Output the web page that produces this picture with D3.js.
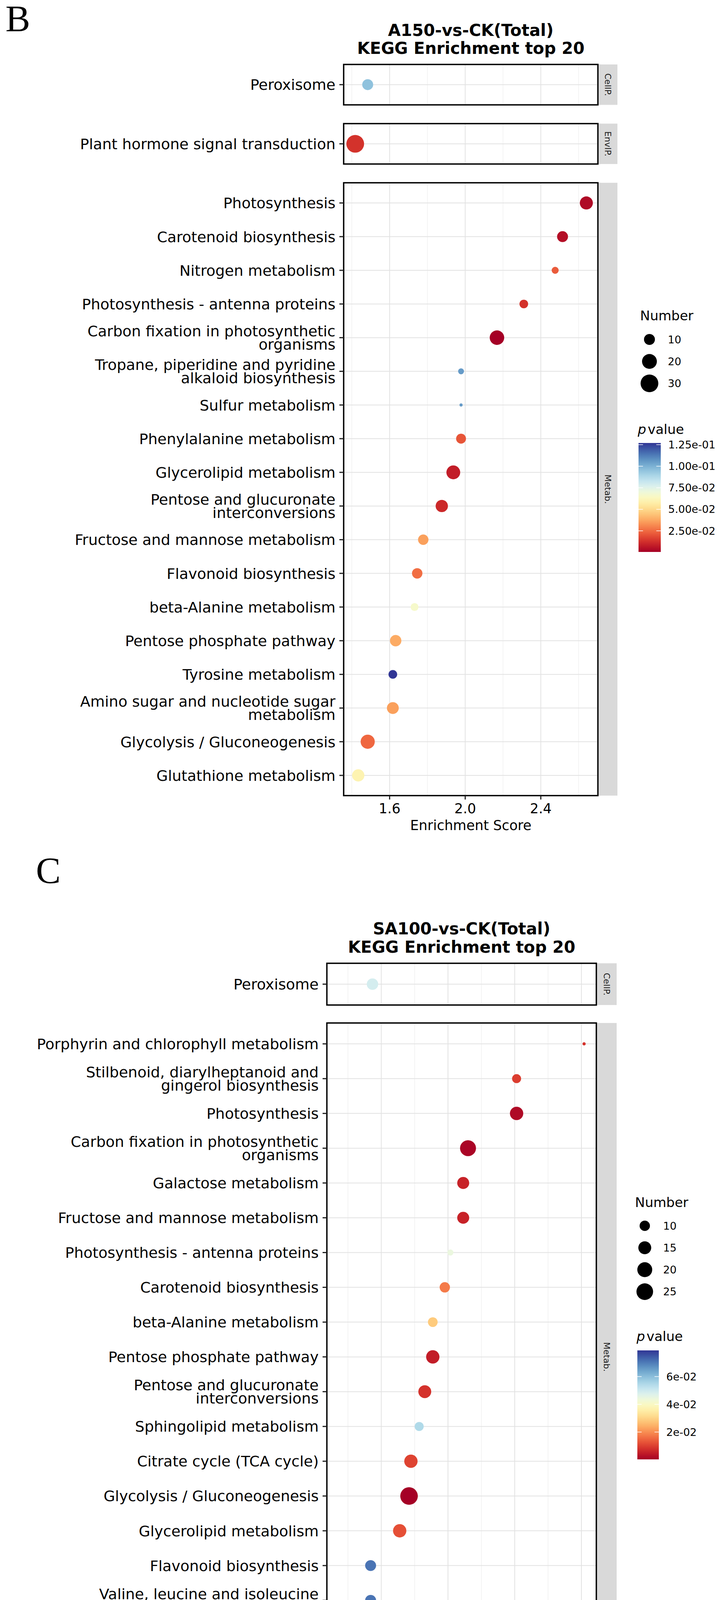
<!DOCTYPE html>
<html>
<head>
<meta charset="utf-8">
<script src="https://cdn.jsdelivr.net/npm/d3@7"></script>
<style>
  html, body { margin: 0; padding: 0; background: #fff; overflow: hidden; }
  #canvas { display: block; }
  svg text { font-family: "DejaVu Sans", sans-serif; }
</style>
</head>
<body>
<svg id="canvas" width="1859" height="4434"></svg>
<script>
// ---- panel B : A150 vs CK ----
const bTitle = ['A150-vs-CK(Total)', 'KEGG Enrichment top 20']
const bClass = ['CellP.', 'EnvIP.', 'Metab.', 'Metab.', 'Metab.', 'Metab.', 'Metab.', 'Metab.', 'Metab.', 'Metab.',
  'Metab.', 'Metab.', 'Metab.', 'Metab.', 'Metab.', 'Metab.', 'Metab.', 'Metab.', 'Metab.', 'Metab.']
const bTerms = ['Peroxisome', 'Plant hormone signal transduction', 'Photosynthesis', 'Carotenoid biosynthesis',
  'Nitrogen metabolism', 'Photosynthesis - antenna proteins', 'Carbon fixation in photosynthetic\norganisms',
  'Tropane, piperidine and pyridine\nalkaloid biosynthesis', 'Sulfur metabolism', 'Phenylalanine metabolism',
  'Glycerolipid metabolism', 'Pentose and glucuronate\ninterconversions', 'Fructose and mannose metabolism',
  'Flavonoid biosynthesis', 'beta-Alanine metabolism', 'Pentose phosphate pathway', 'Tyrosine metabolism',
  'Amino sugar and nucleotide sugar\nmetabolism', 'Glycolysis / Gluconeogenesis', 'Glutathione metabolism']
const bScore = [1.484, 1.418, 2.641, 2.515, 2.476, 2.310, 2.168, 1.978, 1.978, 1.978,
  1.937, 1.876, 1.778, 1.746, 1.732, 1.632, 1.617, 1.617, 1.484, 1.434]
const bCount = [10, 30, 15, 10, 4, 6, 19, 3, 2, 8, 17, 13, 9, 9, 5, 11, 6, 12, 18, 13]
const bPvalue = [0.0954, 0.0131, 0.0030, 0.0042, 0.0220, 0.0131, 0.00045, 0.1055, 0.1055, 0.0207,
  0.0080, 0.0106, 0.0359, 0.0258, 0.0663, 0.0384, 0.1270, 0.0359, 0.0245, 0.0599]
const bXTicks = [1.6, 2.0, 2.4]
const bXLabels = ['1.6', '2.0', '2.4']
const bSizeBreaks = [10, 20, 30]
const bPBreaks = [0.025, 0.05, 0.075, 0.1, 0.125]
const bPLabels = ['2.50e-02', '5.00e-02', '7.50e-02', '1.00e-01', '1.25e-01']

// ---- panel C : SA100 vs CK ----
const cTitle = ['SA100-vs-CK(Total)', 'KEGG Enrichment top 20']
const cClass = ['CellP.', 'Metab.', 'Metab.', 'Metab.', 'Metab.', 'Metab.', 'Metab.', 'Metab.', 'Metab.', 'Metab.',
  'Metab.', 'Metab.', 'Metab.', 'Metab.', 'Metab.', 'Metab.', 'Metab.', 'Metab.', 'Metab.', 'Metab.']
const cTerms = ['Peroxisome', 'Porphyrin and chlorophyll metabolism', 'Stilbenoid, diarylheptanoid and\ngingerol biosynthesis',
  'Photosynthesis', 'Carbon fixation in photosynthetic\norganisms', 'Galactose metabolism',
  'Fructose and mannose metabolism', 'Photosynthesis - antenna proteins', 'Carotenoid biosynthesis',
  'beta-Alanine metabolism', 'Pentose phosphate pathway', 'Pentose and glucuronate\ninterconversions',
  'Sphingolipid metabolism', 'Citrate cycle (TCA cycle)', 'Glycolysis / Gluconeogenesis', 'Glycerolipid metabolism',
  'Flavonoid biosynthesis', 'Valine, leucine and isoleucine\ndegradation', 'Starch and sucrose metabolism',
  'Phenylpropanoid biosynthesis']
const cScore = [1.467, 2.260, 2.007, 2.007, 1.825, 1.807, 1.807, 1.759, 1.738, 1.693,
  1.693, 1.663, 1.642, 1.611, 1.604, 1.569, 1.460, 1.460, 1.398, 1.342]
const cCount = [12, 4, 8, 16, 23, 13, 13, 5, 10, 9, 16, 15, 8, 16, 28, 16, 11, 11, 13, 25]
const cPvalue = [0.0490, 0.0082, 0.0097, 0.0019, 0.0011, 0.0058, 0.0058, 0.0443, 0.0176, 0.0286,
  0.0050, 0.0082, 0.0545, 0.0105, 0.0003, 0.0121, 0.0710, 0.0710, 0.0789, 0.0427]
const cXTicks = [1.5, 1.75, 2.0, 2.25]
const cXLabels = ['1.50', '1.75', '2.00', '2.25']
const cSizeBreaks = [10, 15, 20, 25]
const cPBreaks = [0.02, 0.04, 0.06]
const cPLabels = ['2e-02', '4e-02', '6e-02']

let svg = d3.select('#canvas')
svg.append('rect').attr('width', 1859).attr('height', 4434).attr('fill', '#fff')

let drawChart = (o) => {
  let g = svg.append('g')
  let rows = o.terms.map((t, i) => ({term: t, cls: o.cls[i], score: o.score[i], n: o.count[i], p: o.pvalue[i]}))
  let groups = Array.from(new Set(o.cls))

  let ext = d3.extent(o.score)
  let pad = (ext[1] - ext[0]) * 0.05
  let x = d3.scaleLinear().domain([ext[0] - pad, ext[1] + pad]).range([o.left, o.right])
  let color = d3.scaleSequential(d3.interpolateRdYlBu).domain(d3.extent(o.pvalue))
  let sizeT = d3.scaleLinear().domain(d3.extent(o.count)).range([0, 1])
  let rS = d3.scaleSqrt().domain([0, 1]).range(o.rRange)
  let r = v => rS(sizeT(v))

  // minor breaks halfway between majors (one extra step each side)
  let step = o.xTicks[1] - o.xTicks[0]
  let minor = d3.range(o.xTicks[0] - step / 2, o.xTicks[o.xTicks.length - 1] + step, step)
    .filter(v => v > x.domain()[0] && v < x.domain()[1])

  // tag letter
  svg.append('text').attr('x', o.tagX).attr('y', o.tagY)
    .style('font-family', '"Liberation Serif", serif').attr('font-size', 95).text(o.tag)

  // title
  o.title.forEach((t, i) => {
    g.append('text').attr('x', (o.left + o.right) / 2).attr('y', o.titleY + i * 46.5)
      .attr('text-anchor', 'middle').attr('font-size', 42).attr('font-weight', 'bold').text(t)
  })

  let top = o.top
  let bottom
  groups.forEach(grp => {
    let sub = rows.filter(d => d.cls === grp)
    let h = o.unit * (sub.length - 1 + 1.2)
    let y = d3.scalePoint().domain(sub.map(d => d.term)).range([top, top + h]).padding(0.6)
    let pg = g.append('g')

    pg.append('rect').attr('x', o.left).attr('y', top).attr('width', o.right - o.left).attr('height', h).attr('fill', '#fff')

    pg.selectAll('.minor').data(minor).enter().append('line')
      .attr('x1', d => x(d)).attr('x2', d => x(d)).attr('y1', top).attr('y2', top + h)
      .attr('stroke', '#ececec').attr('stroke-width', 1.2)
    pg.selectAll('.vmajor').data(o.xTicks).enter().append('line')
      .attr('x1', d => x(d)).attr('x2', d => x(d)).attr('y1', top).attr('y2', top + h)
      .attr('stroke', '#e2e2e2').attr('stroke-width', 2)
    pg.selectAll('.hmajor').data(sub).enter().append('line')
      .attr('x1', o.left).attr('x2', o.right).attr('y1', d => y(d.term)).attr('y2', d => y(d.term))
      .attr('stroke', '#e2e2e2').attr('stroke-width', 2)

    pg.selectAll('circle').data(sub).enter().append('circle')
      .attr('cx', d => x(d.score)).attr('cy', d => y(d.term)).attr('r', d => r(d.n))
      .attr('fill', d => color(d.p))

    pg.append('rect').attr('x', o.left).attr('y', top).attr('width', o.right - o.left).attr('height', h)
      .attr('fill', 'none').attr('stroke', '#000').attr('stroke-width', 3.5)

    // strip
    pg.append('rect').attr('x', o.right + 2).attr('y', top).attr('width', o.stripW).attr('height', h).attr('fill', '#d9d9d9')
    pg.append('text').attr('transform', `translate(${o.right + 2 + o.stripW / 2 - 8},${top + h / 2}) rotate(90)`)
      .attr('text-anchor', 'middle').attr('font-size', 22).attr('fill', '#1a1a1a').text(grp)

    // y axis
    pg.selectAll('.ytick').data(sub).enter().append('line')
      .attr('x1', o.left - 11).attr('x2', o.left).attr('y1', d => y(d.term)).attr('y2', d => y(d.term))
      .attr('stroke', '#222').attr('stroke-width', 3)
    sub.forEach(d => {
      let lines = d.term.split('\n')
      let lbl = pg.append('text').attr('text-anchor', 'end').attr('font-size', 38).attr('fill', '#000')
      lines.forEach((ln, k) => {
        lbl.append('tspan').attr('x', o.left - 21)
          .attr('y', y(d.term) + 13.7 + (k - (lines.length - 1) / 2) * 34).text(ln)
      })
    })

    bottom = top + h
    top = top + h + o.gap
  })

  // x axis under last panel
  g.selectAll('.xtick').data(o.xTicks).enter().append('line')
    .attr('x1', d => x(d)).attr('x2', d => x(d)).attr('y1', bottom).attr('y2', bottom + 10)
    .attr('stroke', '#222').attr('stroke-width', 3)
  g.selectAll('.xlab').data(o.xTicks).enter().append('text')
    .attr('x', d => x(d)).attr('y', bottom + 45).attr('text-anchor', 'middle').attr('font-size', 35)
    .text((d, i) => o.xLabels[i])
  g.append('text').attr('x', (o.left + o.right) / 2).attr('y', bottom + 88)
    .attr('text-anchor', 'middle').attr('font-size', 35).text('Enrichment Score')

  // size legend
  let L = o.legend
  g.append('text').attr('x', L.numX).attr('y', L.numY).attr('font-size', 34).text('Number')
  g.selectAll('.key').data(o.sizeBreaks).enter().append('circle')
    .attr('cx', L.keyX).attr('cy', (d, i) => L.keyY + i * 56.2).attr('r', d => r(d)).attr('fill', '#000')
  g.selectAll('.keylab').data(o.sizeBreaks).enter().append('text')
    .attr('x', L.keyX + 47).attr('y', (d, i) => L.keyY + i * 56.2 + 9.7).attr('font-size', 27).text(d => d)

  // colour legend
  let pt = g.append('text').attr('x', L.pX).attr('y', L.pY).attr('font-size', 34)
  pt.append('tspan').attr('font-style', 'italic').text('p')
  pt.append('tspan').attr('dx', 4).text('value')

  let gid = 'grad' + o.tag
  let grad = svg.append('defs').append('linearGradient').attr('id', gid)
    .attr('x1', 0).attr('y1', 1).attr('x2', 0).attr('y2', 0)
  let pe = color.domain()
  d3.range(0, 1.0001, 0.05).forEach(t => {
    grad.append('stop').attr('offset', t).attr('stop-color', color(pe[0] + t * (pe[1] - pe[0])))
  })
  g.append('rect').attr('x', L.barX).attr('y', L.barTop).attr('width', L.barW).attr('height', L.barBottom - L.barTop)
    .attr('fill', `url(#${gid})`)
  let yBar = d3.scaleLinear().domain(pe).range([L.barBottom, L.barTop])
  o.pBreaks.forEach((b, i) => {
    g.append('line').attr('x1', L.barX).attr('x2', L.barX + L.barW / 5).attr('y1', yBar(b)).attr('y2', yBar(b))
      .attr('stroke', '#fff').attr('stroke-width', 1.5)
    g.append('line').attr('x1', L.barX + L.barW * 0.8).attr('x2', L.barX + L.barW).attr('y1', yBar(b)).attr('y2', yBar(b))
      .attr('stroke', '#fff').attr('stroke-width', 1.5)
    g.append('text').attr('x', L.barX + L.barW + 19).attr('y', yBar(b) + 9.7).attr('font-size', 27).text(o.pLabels[i])
  })
}

drawChart({
  tag: 'B', tagX: 14, tagY: 80,
  title: bTitle, titleY: 91.5,
  cls: bClass, terms: bTerms, score: bScore, count: bCount, pvalue: bPvalue,
  xTicks: bXTicks, xLabels: bXLabels, sizeBreaks: bSizeBreaks, pBreaks: bPBreaks, pLabels: bPLabels,
  left: 880, right: 1531, top: 165, unit: 86.2, gap: 48, stripW: 48,
  rRange: [4, 22.7],
  legend: {numX: 1639, numY: 820, keyX: 1663, keyY: 869, pX: 1633, pY: 1111,
    barX: 1635, barW: 57, barTop: 1134, barBottom: 1413}
})

drawChart({
  tag: 'C', tagX: 92, tagY: 2261,
  title: cTitle, titleY: 2392,
  cls: cClass, terms: cTerms, score: cScore, count: cCount, pvalue: cPvalue,
  xTicks: cXTicks, xLabels: cXLabels, sizeBreaks: cSizeBreaks, pBreaks: cPBreaks, pLabels: cPLabels,
  left: 837, right: 1527, top: 2466, unit: 89.04, gap: 46, stripW: 50,
  rRange: [4, 22.5],
  legend: {numX: 1626, numY: 3090, keyX: 1651, keyY: 3138, pX: 1630, pY: 3433,
    barX: 1632, barW: 55, barTop: 3457, barBottom: 3736}
})
</script>
</body>
</html>
